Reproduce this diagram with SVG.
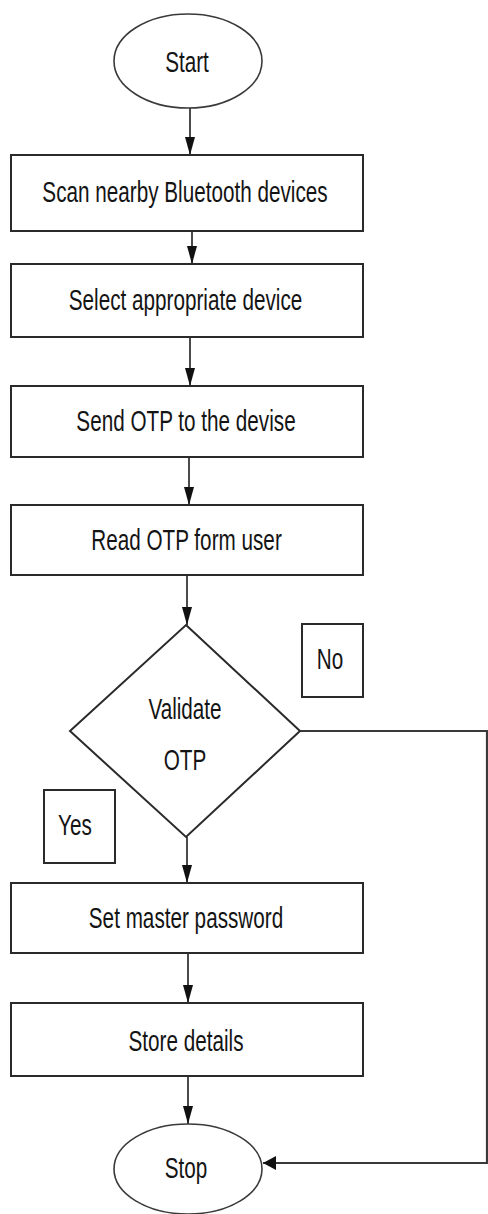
<svg xmlns="http://www.w3.org/2000/svg" width="488" height="1214" viewBox="0 0 488 1214">
<style>
.shape{fill:#fff;stroke:#2a2a2a;stroke-width:2}
.oval{fill:#fff;stroke:#3a3a3a;stroke-width:1.6}
.lbl{font-family:"Liberation Sans",Arial,sans-serif;font-size:30px;fill:#141414;text-anchor:middle}
.conn{fill:none;stroke:#1e1e1e;stroke-width:1.6}
.conn2{fill:none;stroke:#3a3a3a;stroke-width:2.2}
</style>
<defs>
<marker id="av" markerUnits="userSpaceOnUse" markerWidth="18" markerHeight="12" viewBox="0 0 18 12" refX="18" refY="6" orient="auto">
<path d="M0,1 L18,6 L0,11 Z" fill="#111"/>
</marker>
<marker id="ah" markerUnits="userSpaceOnUse" markerWidth="13" markerHeight="16" viewBox="0 0 13 16" refX="13" refY="8" orient="auto">
<path d="M0,1 L13,8 L0,15 Z" fill="#111"/>
</marker>
</defs>
<rect width="488" height="1214" fill="#fff"/>
<g id="connectors">
<path class="conn" d="M190,108 L190,155" marker-end="url(#av)"/>
<path class="conn" d="M192,231 L192,264" marker-end="url(#av)"/>
<path class="conn" d="M190,337 L190,386" marker-end="url(#av)"/>
<path class="conn" d="M189,457 L189,505" marker-end="url(#av)"/>
<path class="conn" d="M187,575 L187,625" marker-end="url(#av)"/>
<path class="conn" d="M187,837 L187,883" marker-end="url(#av)"/>
<path class="conn" d="M188,953 L188,1003" marker-end="url(#av)"/>
<path class="conn" d="M188,1076 L188,1124" marker-end="url(#av)"/>
<path class="conn2" d="M300,731 L487,731 L487,1163 L263,1163" marker-end="url(#ah)"/>
</g>
<g id="start">
<ellipse class="oval" cx="188" cy="61" rx="74" ry="47"/>
<text class="lbl" transform="translate(187,72) scale(0.69,1)">Start</text>
</g>
<g id="scan">
<rect class="shape" x="11" y="155" width="352" height="76"/>
<text class="lbl" transform="translate(185,202) scale(0.69,1)">Scan nearby Bluetooth devices</text>
</g>
<g id="select">
<rect class="shape" x="11" y="264" width="352" height="73"/>
<text class="lbl" transform="translate(185.5,310) scale(0.69,1)">Select appropriate device</text>
</g>
<g id="send">
<rect class="shape" x="11" y="386" width="352" height="71"/>
<text class="lbl" transform="translate(186,431) scale(0.69,1)">Send OTP to the devise</text>
</g>
<g id="read">
<rect class="shape" x="11" y="505" width="352" height="70"/>
<text class="lbl" transform="translate(186.5,550) scale(0.69,1)">Read OTP form user</text>
</g>
<g id="validate">
<polygon class="shape" points="186,625 300,731 186,837 70,731"/>
<text class="lbl" transform="translate(185,719) scale(0.69,1)">Validate</text>
<text class="lbl" transform="translate(185,770) scale(0.69,1)">OTP</text>
</g>
<g id="label-no">
<rect class="shape" x="302" y="624" width="61" height="73"/>
<text class="lbl" transform="translate(330,669) scale(0.69,1)">No</text>
</g>
<g id="label-yes">
<rect class="shape" x="44" y="790" width="71" height="73"/>
<text class="lbl" transform="translate(75,835) scale(0.69,1)">Yes</text>
</g>
<g id="setpw">
<rect class="shape" x="11" y="883" width="352" height="70"/>
<text class="lbl" transform="translate(186,928) scale(0.69,1)">Set master password</text>
</g>
<g id="store">
<rect class="shape" x="11" y="1003" width="352" height="73"/>
<text class="lbl" transform="translate(186,1051) scale(0.69,1)">Store details</text>
</g>
<g id="stop">
<ellipse class="oval" cx="188" cy="1169" rx="74" ry="45"/>
<text class="lbl" transform="translate(186,1178) scale(0.69,1)">Stop</text>
</g>
</svg>
